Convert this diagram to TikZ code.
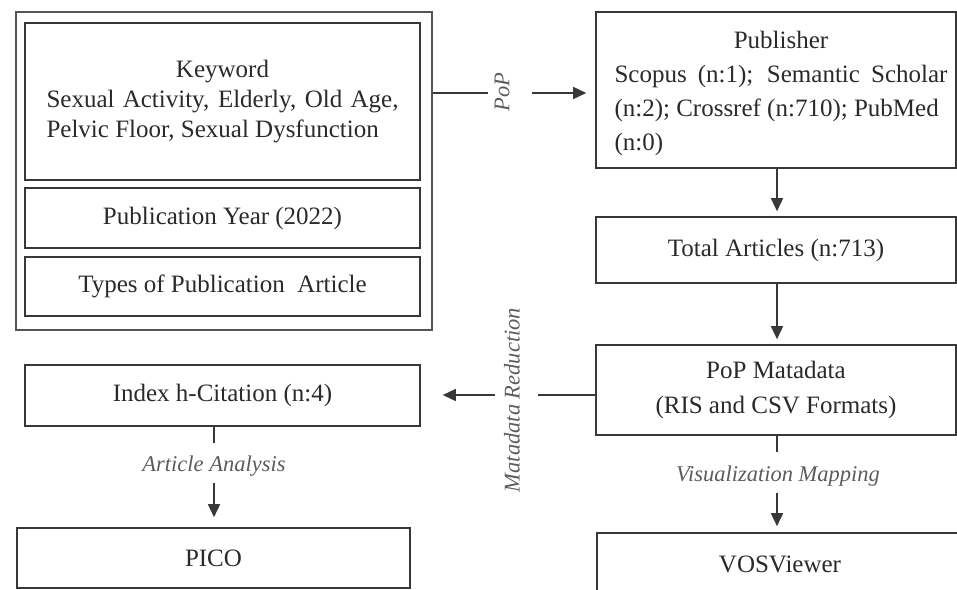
\documentclass[tikz,border=0pt]{standalone}
\usepackage{fontspec}
\setmainfont{Liberation Serif}
\usetikzlibrary{arrows.meta,calc}
\definecolor{ink}{HTML}{2A2A2A}
\definecolor{lineC}{HTML}{383838}
\definecolor{outerC}{HTML}{555555}
\definecolor{lab}{HTML}{5C5C5C}
\begin{document}
\begin{tikzpicture}[x=1pt,y=-1pt,
  box/.style={draw=lineC, line width=1.6pt, inner sep=0pt, text=ink,
    font=\fontsize{25}{30}\selectfont, align=center},
  lbl/.style={text=lab, font=\fontsize{22.5}{27}\selectfont\itshape, inner sep=0pt},
  arr/.style={draw=lineC, line width=1.5pt, -{Triangle[length=13pt,width=12pt]}},
  ln/.style={draw=lineC, line width=1.5pt}]
\useasboundingbox (0,0) rectangle (957,589);
\clip (0,0) rectangle (957,589);

% left group
\node[box, draw=outerC, line width=1.4pt, minimum width=416pt, minimum height=318pt] (outer) at (224,171) {};
\node[box, minimum width=395pt, minimum height=157pt] (kw) at (222.5,101.5)
  {Keyword\\\makebox[352pt][s]{Sexual Activity, Elderly, Old Age,}\\\makebox[352pt][l]{Pelvic Floor, Sexual Dysfunction}};
\node[box, minimum width=395pt, minimum height=60pt] (py) at (222.5,218) {Publication Year (2022)};
\node[box, minimum width=395pt, minimum height=59pt] (tp) at (222.5,286.5) {Types of Publication\ \ Article};

% right column
\node[box, minimum width=360pt, minimum height=156pt] (pub) at (776,90) {};
\node[text=ink, font=\fontsize{25}{34}\selectfont, align=center, inner sep=0pt] (pubtxt) at (781,93)
  {Publisher\\\makebox[333pt][s]{Scopus (n:1); Semantic Scholar}\\\makebox[333pt][l]{(n:2); Crossref (n:710); PubMed}\\\makebox[333pt][l]{(n:0)}};
\node[box, minimum width=360pt, minimum height=66pt] (tot) at (776,250) {Total Articles (n:713)};
\node[box, minimum width=360pt, minimum height=90pt, font=\fontsize{25}{35}\selectfont] (meta) at (776,390)
  {PoP Matadata\\(RIS and CSV Formats)};
\node[box, minimum width=366pt, minimum height=62pt] (vos) at (780,564) {VOSViewer};

% left lower
\node[box, minimum width=395pt, minimum height=61pt] (idx) at (222.5,395.5) {Index h-Citation (n:4)};
\node[box, minimum width=393pt, minimum height=60pt] (pico) at (213.5,558) {PICO};

% labels
\node[lbl] (pop) at (502,92) {\rotatebox{90}{PoP}};
\node[lbl] (mr) at (512,400) {\rotatebox{90}{Matadata Reduction}};
\node[lbl] (aa) at (214,466) {Article Analysis};
\node[lbl] (vm) at (778,476) {Visualization Mapping};

\coordinate (p1) at (488,93);
\coordinate (p2) at (532,93);
\coordinate (m1) at (538,395);
\coordinate (m2) at (495,395);
\coordinate (a1) at (214,443);
\coordinate (a2) at (214,483);
\coordinate (v1) at (777,452);
\coordinate (v2) at (777,493);

% connectors
\draw[ln] (outer.east |- p1) -- (p1);
\draw[arr, shorten >=9pt] (p2) -- (pub.west |- p2);
\draw[arr, shorten >=5pt] (pub.south -| v1) -- (tot.north -| v1);
\draw[arr, shorten >=5pt] (tot.south -| v1) -- (meta.north -| v1);
\draw[ln] (meta.west |- m1) -- (m1);
\draw[arr, shorten >=22pt] (m2) -- (idx.east |- m2);
\draw[ln] (idx.south -| a1) -- (a1);
\draw[arr, shorten >=10pt] (a2) -- (pico.north -| a2);
\draw[ln] (meta.south -| v1) -- (v1);
\draw[arr, shorten >=6pt] (v2) -- (vos.north -| v2);
\end{tikzpicture}
\end{document}
